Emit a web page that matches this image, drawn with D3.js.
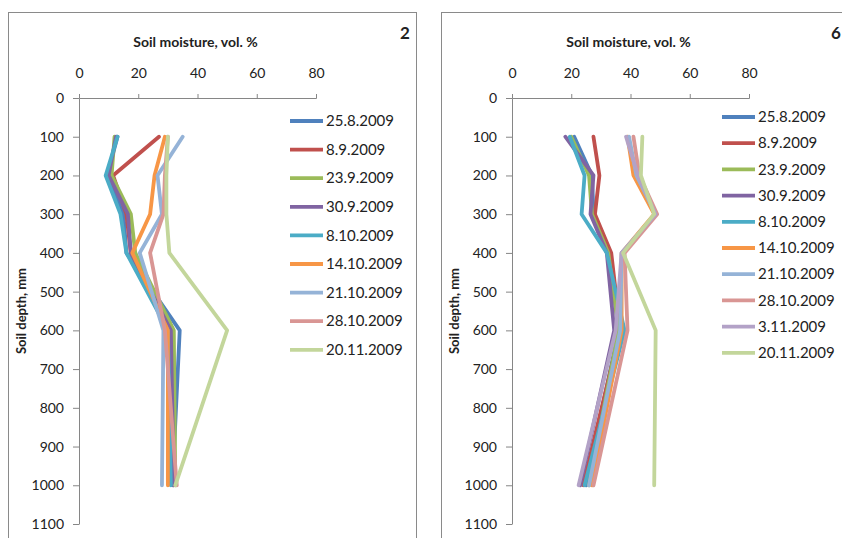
<!DOCTYPE html>
<html>
<head>
<meta charset="utf-8">
<script src="https://cdn.jsdelivr.net/npm/d3@7"></script>
<style>
  html, body { margin: 0; padding: 0; background: #fff; }
  svg { display: block; }
  text { font-family: Lato, "Open Sans", sans-serif; fill: #222; }
</style>
</head>
<body>
<svg id="chart" width="842" height="538"></svg>
<script>
// ---- data ----
const depths = [100, 200, 300, 400, 600, 1000];
const xTickValues = [0, 20, 40, 60, 80];
const yTickValues = [0, 100, 200, 300, 400, 500, 600, 700, 800, 900, 1000, 1100];

const datesP2 = ["25.8.2009", "8.9.2009", "23.9.2009", "30.9.2009", "8.10.2009",
                 "14.10.2009", "21.10.2009", "28.10.2009", "20.11.2009"];
const colorsP2 = ["#4F81BD", "#C0504D", "#9BBB59", "#8064A2", "#4BACC6",
                  "#F79646", "#95B3D7", "#D99694", "#C3D69B"];
const valuesP2 = [
  [13, 9.5, 15, 16, 34, 31.5],
  [27, 11.5, 16, 17.5, 30.5, 32],
  [12, 11, 17.5, 19, 32, 32.5],
  [12.5, 10, 16.5, 17.5, 31, 32],
  [13, 9, 14, 16, 30, 31],
  [29, 25.5, 24, 18, 30, 30],
  [35, 26.5, 28, 20.5, 28.5, 28],
  [30, 29, 28.5, 24, 29, 33],
  [30, 29.5, 29.5, 30.5, 50, 32.5]
];

const datesP6 = ["25.8.2009", "8.9.2009", "23.9.2009", "30.9.2009", "8.10.2009",
                 "14.10.2009", "21.10.2009", "28.10.2009", "3.11.2009", "20.11.2009"];
const colorsP6 = ["#4F81BD", "#C0504D", "#9BBB59", "#8064A2", "#4BACC6",
                  "#F79646", "#95B3D7", "#D99694", "#B3A2C7", "#C3D69B"];
const valuesP6 = [
  [21, 27, 27.5, 33, 36, 25],
  [27.5, 29.5, 28, 33.5, 36.5, 24],
  [20, 26, 27, 32.5, 36, 26],
  [18, 27.5, 26.5, 32, 34.5, 23],
  [19.5, 24.5, 23.5, 32, 38, 24.5],
  [39, 41, 48, 37, 37, 27],
  [39.5, 42, 48.5, 37, 36.5, 26],
  [41, 43, 49, 38, 39, 27.5],
  [38.5, 42.5, 48.5, 37, 35, 22.5],
  [44, 43.5, 48, 37.5, 48.5, 48]
];

const panels = [
  { label: "2", dates: datesP2, colors: colorsP2, values: valuesP2,
    frame: [8.5, 12.5, 408, 540], x0: 79, x1: 316, yTitleX: 22,
    legX: 290, legY: 121, legStep: 28.6, numX: 405 },
  { label: "6", dates: datesP6, colors: colorsP6, values: valuesP6,
    frame: [441.5, 12.5, 420, 540], x0: 512, x1: 749, yTitleX: 455,
    legX: 722, legY: 117, legStep: 26.2, numX: 836 }
];

const svg = d3.select("#chart");
const axisColor = "#868686";

panels.forEach(p => {
  const g = svg.append("g");
  g.append("rect")
    .attr("x", p.frame[0]).attr("y", p.frame[1])
    .attr("width", p.frame[2]).attr("height", p.frame[3])
    .attr("fill", "none").attr("stroke", "#8a8a8a").attr("stroke-width", 1);

  const x = d3.scaleLinear().domain([0, 80]).range([p.x0, p.x1]);
  const y = d3.scaleLinear().domain([0, 1100]).range([98, 524]);

  const xAxis = d3.axisTop(x).tickValues(xTickValues).tickSize(4).tickSizeOuter(4)
    .tickPadding(16).tickFormat(d3.format("d"));
  const gx = g.append("g").attr("transform", `translate(0,${y(0)})`).call(xAxis);
  const yAxis = d3.axisLeft(y).tickValues(yTickValues).tickSize(6).tickSizeOuter(0)
    .tickPadding(9).tickFormat(d3.format("d"));
  const gy = g.append("g").attr("transform", `translate(${x(0)},0)`).call(yAxis);

  [gx, gy].forEach(a => {
    a.selectAll("path.domain").attr("stroke", axisColor);
    a.selectAll(".tick line").attr("stroke", axisColor);
    a.selectAll(".tick text").style("font-family", "Lato, sans-serif")
      .style("font-size", "14px").attr("fill", "#222");
  });

  g.append("text")
    .attr("x", (p.x0 + p.x1) / 2 - 2).attr("y", 47)
    .attr("text-anchor", "middle")
    .style("font-size", "14px").style("font-weight", "bold")
    .text("Soil moisture, vol. %");

  g.append("text")
    .attr("transform", `translate(${p.yTitleX + 4},${y(550)}) rotate(-90)`)
    .attr("text-anchor", "middle")
    .style("font-size", "13px").style("font-weight", "bold")
    .text("Soil depth, mm");

  g.append("text")
    .attr("x", p.numX).attr("y", 39)
    .attr("text-anchor", "middle")
    .style("font-size", "17px").style("font-weight", "bold")
    .text(p.label);

  const line = d3.line().x(d => x(d[0])).y(d => y(d[1]));
  p.values.forEach((vals, i) => {
    const pts = vals.map((v, k) => [v, depths[k]]);
    g.append("path")
      .attr("d", line(pts))
      .attr("fill", "none")
      .attr("stroke", p.colors[i])
      .attr("stroke-width", 3.8)
      .attr("stroke-linejoin", "round")
      .attr("stroke-linecap", "round");
  });

  const leg = g.append("g");
  p.dates.forEach((d, i) => {
    const ly = p.legY + i * p.legStep;
    leg.append("line")
      .attr("x1", p.legX).attr("x2", p.legX + 33)
      .attr("y1", ly).attr("y2", ly)
      .attr("stroke", p.colors[i]).attr("stroke-width", 3.8);
    leg.append("text")
      .attr("x", p.legX + 36).attr("y", ly)
      .attr("dy", "0.35em")
      .style("font-size", "15px")
      .text(d);
  });
});
</script>
</body>
</html>
